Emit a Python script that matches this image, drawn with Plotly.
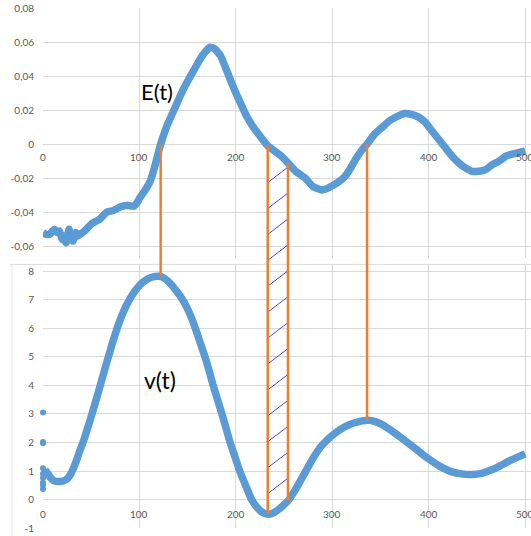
import numpy as np
import plotly.graph_objects as go

# ---------------- data ----------------
t_E = [0, 3, 7, 10, 12, 15, 17, 20, 22, 24, 27, 29, 31, 34, 36, 41, 45, 50, 59, 66, 73, 80, 87, 94,
       98, 101, 106, 111, 116, 121, 128, 135, 142, 149, 156, 163, 168, 173, 178, 184, 190, 197, 204,
       211, 218, 222, 226, 230, 233, 240, 247, 254, 262, 267, 272, 280, 289, 295, 300, 307, 313, 318,
       324, 330, 336, 344, 352, 360, 368, 375, 382, 389, 396, 403, 410, 417, 424, 431, 438, 445, 452,
       459, 466, 473, 480, 486, 493, 500]
E_vals = [-0.052, -0.053, -0.053, -0.051, -0.050, -0.052, -0.051, -0.056, -0.054, -0.058, -0.050,
          -0.055, -0.057, -0.052, -0.054, -0.052, -0.050, -0.047, -0.044, -0.040, -0.039, -0.037,
          -0.036, -0.0365, -0.034, -0.031, -0.027, -0.022, -0.013, -0.002, 0.010, 0.019, 0.028,
          0.036, 0.043, 0.050, 0.054, 0.057, 0.056, 0.052, 0.044, 0.034, 0.025, 0.0165, 0.010,
          0.007, 0.004, 0.001, -0.001, -0.004, -0.007, -0.011, -0.016, -0.018, -0.020, -0.025,
          -0.027, -0.026, -0.0245, -0.022, -0.019, -0.015, -0.009, -0.004, 0.000, 0.006, 0.010,
          0.014, 0.0165, 0.018, 0.0175, 0.016, 0.013, 0.008, 0.003, -0.002, -0.007, -0.011,
          -0.014, -0.016, -0.016, -0.015, -0.012, -0.010, -0.007, -0.006, -0.005, -0.004]

t_v = [2, 4, 6, 9, 12, 16, 21, 25, 28, 31, 35, 38, 42, 49, 56, 61, 66, 73, 80, 87, 94, 101, 108,
       115, 120, 125, 130, 136, 142, 149, 156, 163, 168, 172, 176, 181, 186, 190, 194, 199, 204,
       210, 216, 222, 228, 234, 240, 245, 250, 254, 260, 266, 272, 280, 288, 295, 300, 308, 316,
       324, 331, 337, 344, 352, 362, 372, 383, 393, 404, 414, 424, 434, 445, 455, 466, 474, 482,
       491, 500]
v_vals = [1.05, 0.95, 0.85, 0.72, 0.65, 0.63, 0.65, 0.72, 0.85, 1.05, 1.4, 1.7, 2.05, 2.8, 3.6,
          4.2, 4.8, 5.6, 6.3, 6.85, 7.25, 7.55, 7.73, 7.82, 7.83, 7.78, 7.65, 7.42, 7.15, 6.75,
          6.2, 5.5, 5.0, 4.55, 4.05, 3.5, 2.95, 2.48, 2.0, 1.5, 1.0, 0.5, 0.02, -0.28, -0.46,
          -0.52, -0.45, -0.33, -0.18, -0.05, 0.25, 0.6, 0.97, 1.45, 1.85, 2.1, 2.25, 2.45, 2.6,
          2.7, 2.76, 2.78, 2.74, 2.62, 2.4, 2.15, 1.87, 1.6, 1.33, 1.12, 0.97, 0.9, 0.88, 0.92,
          1.05, 1.18, 1.33, 1.47, 1.6]

t_v_start = [0, 0, 0, 0, 0, 0, 0, 0, 0]
v_start = [3.05, 2.02, 1.97, 1.1, 0.9, 0.75, 0.6, 0.5, 0.37]

marker_times = [122, 233, 254, 336]
hatch_between = [233, 254]

x_ticks = [0, 100, 200, 300, 400, 500]
x_tick_labels = ["0", "100", "200", "300", "400", "500"]
E_ticks = [-0.06, -0.04, -0.02, 0, 0.02, 0.04, 0.06, 0.08]
E_tick_labels = ["-0,06", "-0,04", "-0,02", "0", "0,02", "0,04", "0,06", "0,08"]
v_ticks = [-1, 0, 1, 2, 3, 4, 5, 6, 7, 8]
v_tick_labels = ["-1", "0", "1", "2", "3", "4", "5", "6", "7", "8"]
label_E = "E(t)"
label_v = "v(t)"

# ---------------- layout constants ----------------
W, H = 531, 536
M = dict(l=43, r=0, t=8, b=8)
PH = H - M["t"] - M["b"]
x_range = [0, 506]
E_range = [-0.067, 0.08]
v_range = [-1, 8.25]
top_dom = [0.519, 1.0]
bot_dom = [0.0, 0.507]

BLUE = "#5B9BD5"
ORANGE = "#ED7D31"
HATCH = "#4F4FC8"
GRID = "#D9D9D9"
TICK = "#595959"
FONT = "Lato"


def paper_y(val, rng, dom):
    return dom[0] + (val - rng[0]) / (rng[1] - rng[0]) * (dom[1] - dom[0])


fig = go.Figure()
fig.add_trace(go.Scatter(x=t_E, y=E_vals, mode="lines", xaxis="x", yaxis="y",
                         line=dict(color=BLUE, width=7.5, shape="spline", smoothing=0.4),
                         hoverinfo="skip"))
fig.add_trace(go.Scatter(x=t_v, y=v_vals, mode="lines", xaxis="x2", yaxis="y2",
                         line=dict(color=BLUE, width=7.5, shape="spline", smoothing=0.4),
                         hoverinfo="skip"))
fig.add_trace(go.Scatter(x=t_v_start, y=v_start, mode="markers", xaxis="x2", yaxis="y2",
                         marker=dict(color=BLUE, size=6), hoverinfo="skip", cliponaxis=False))

shapes = []
# orange connectors between E(t) and v(t)
for tm in marker_times:
    y0 = paper_y(np.interp(tm, t_E, E_vals), E_range, top_dom)
    y1 = paper_y(np.interp(tm, t_v, v_vals), v_range, bot_dom)
    shapes.append(dict(type="line", xref="x", yref="paper", x0=tm, x1=tm, y0=y0, y1=y1,
                       line=dict(color=ORANGE, width=2.5), layer="above"))

# hatching between the two middle connectors
ta, tb = hatch_between
y_top = paper_y(np.interp(tb, t_E, E_vals), E_range, top_dom) - 5 / PH
y_bot = paper_y(np.interp(tb, t_v, v_vals), v_range, bot_dom) + 22 / PH
for yr in np.linspace(y_top, y_bot, 13):
    shapes.append(dict(type="line", xref="x", yref="paper", x0=ta + 1, x1=tb - 1,
                       y0=yr - 14 / PH, y1=yr, line=dict(color=HATCH, width=1), layer="above"))

# border at top of lower chart and faint left axis line
shapes.append(dict(type="line", xref="paper", yref="paper", x0=-33 / (W - M["l"]), x1=1,
                   y0=bot_dom[1], y1=bot_dom[1], line=dict(color=GRID, width=1), layer="below"))
shapes.append(dict(type="line", xref="paper", yref="paper", x0=-31 / (W - M["l"]),
                   x1=-31 / (W - M["l"]), y0=-M["b"] / PH, y1=bot_dom[1],
                   line=dict(color="#E4E4E4", width=1), layer="below"))

annotations = []
for xv, xl in zip(x_ticks, x_tick_labels):
    annotations.append(dict(x=xv, y=0, xref="x", yref="y", text=xl, showarrow=False,
                            yshift=-13, font=dict(family=FONT, size=10, color=TICK)))
    annotations.append(dict(x=xv, y=0, xref="x2", yref="y2", text=xl, showarrow=False,
                            yshift=-14, font=dict(family=FONT, size=10, color=TICK)))
annotations.append(dict(x=118, y=0.031, xref="x", yref="y", text=label_E, showarrow=False,
                        font=dict(family=FONT, size=22, color="#000000")))
annotations.append(dict(x=121, y=4.2, xref="x2", yref="y2", text=label_v, showarrow=False,
                        font=dict(family=FONT, size=23, color="#000000")))

xaxis_common = dict(range=x_range, showgrid=True, gridcolor=GRID, gridwidth=1, dtick=100,
                    tick0=0, zeroline=False, showticklabels=False, showline=False, ticks="",
                    automargin=False)
yaxis_common = dict(showgrid=True, gridcolor=GRID, gridwidth=1, zeroline=False, showline=False,
                    ticks="", tickfont=dict(family=FONT, size=10, color=TICK),
                    ticklabelstandoff=8, automargin=False)

fig.update_layout(
    width=W, height=H, margin=M, showlegend=False,
    paper_bgcolor="white", plot_bgcolor="white",
    xaxis=dict(**xaxis_common, domain=[0, 1], anchor="y"),
    yaxis=dict(**yaxis_common, domain=top_dom, range=E_range, tickvals=E_ticks,
               ticktext=E_tick_labels, anchor="x"),
    xaxis2=dict(**xaxis_common, domain=[0, 1], anchor="y2"),
    yaxis2=dict(**yaxis_common, domain=bot_dom, range=v_range, tickvals=v_ticks,
                ticktext=v_tick_labels, anchor="x2"),
    shapes=shapes, annotations=annotations,
)

fig.write_html("out.html", config={"displayModeBar": False},
               post_script="document.body.style.margin='0px';document.body.style.overflow='hidden';")
